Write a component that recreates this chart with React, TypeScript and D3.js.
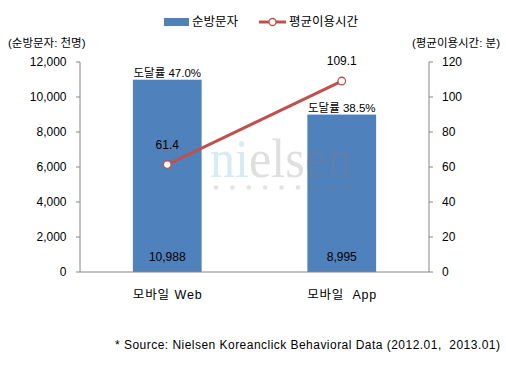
import * as d3 from "d3";

const categories = ["모바일 Web", "모바일  App"];
const visitors = [10988, 8995];
const avgTime = [61.4, 109.1];
const reachLabels = ["도달률 47.0%", "도달률 38.5%"];
const visitorLabels = ["10,988", "8,995"];
const timeLabels = ["61.4", "109.1"];
const leftTicks = [0, 2000, 4000, 6000, 8000, 10000, 12000];
const rightTicks = [0, 20, 40, 60, 80, 100, 120];

const W = 506;
const H = 367;
const plot = { left: 80, right: 429, top: 62, bottom: 272 };

const barColor = "#4F81BD";
const lineColor = "#C0504D";
const axisColor = "#868686";
const font = "'Liberation Sans', 'Noto Sans CJK KR', sans-serif";

export default function App() {
  const x = d3
    .scaleBand<string>()
    .domain(categories)
    .range([plot.left, plot.right])
    .paddingInner(0.606)
    .paddingOuter(0.303);
  const cx = (c: string) => (x(c) ?? 0) + x.bandwidth() / 2;

  const yLeft = d3.scaleLinear().domain([0, 12000]).range([plot.bottom, plot.top]);
  const yRight = d3.scaleLinear().domain([0, 120]).range([plot.bottom, plot.top]);

  const line = d3
    .line<number>()
    .x((_, i) => cx(categories[i]))
    .y((d) => yRight(d));

  const fmt = d3.format(",");
  const dots = d3.range(9);

  return (
    <svg
      width={W}
      height={H}
      style={{ position: "absolute", left: 0, top: 0, background: "#fff" }}
      fontFamily={font}
    >
      {/* legend */}
      <rect x={164} y={18} width={25} height={8} fill={barColor} />
      <text x={192} y={22} dy="0.35em" fontSize={12.5}>
        순방문자
      </text>
      <line x1={259} x2={286} y1={22} y2={22} stroke={lineColor} strokeWidth={3} />
      <circle cx={272.5} cy={22} r={3.5} fill="#fff" stroke={lineColor} strokeWidth={1.3} />
      <text x={289} y={22} dy="0.35em" fontSize={12.5}>
        평균이용시간
      </text>

      {/* axis titles */}
      <text x={8} y={43} dy="0.35em" fontSize={11.5}>
        (순방문자: 천명)
      </text>
      <text x={500} y={43} dy="0.35em" fontSize={11.5} textAnchor="end">
        (평균이용시간: 분)
      </text>

      {/* bars */}
      {categories.map((c, i) => (
        <rect
          key={c}
          x={x(c)}
          y={yLeft(visitors[i])}
          width={x.bandwidth()}
          height={plot.bottom - yLeft(visitors[i])}
          fill={barColor}
        />
      ))}

      {/* watermark */}
      <text
        x={210}
        y={177}
        fontFamily="'Liberation Serif', serif"
        fontSize={54}
        textLength={142}
        lengthAdjust="spacingAndGlyphs"
      >
        <tspan fill="#5fb0d0" fillOpacity={0.25}>ni</tspan>
        <tspan fill="#7f7f7f" fillOpacity={0.25}>elsen</tspan>
      </text>
      {dots.map((d) => (
        <circle key={d} cx={216 + d * 16.4} cy={187.5} r={2.3} fill="#7f7f7f" fillOpacity={0.22} />
      ))}

      {/* axes */}
      <line x1={plot.left} x2={plot.left} y1={plot.top} y2={plot.bottom} stroke={axisColor} />
      <line x1={plot.right} x2={plot.right} y1={plot.top} y2={plot.bottom} stroke={axisColor} />
      <line x1={plot.left} x2={plot.right} y1={plot.bottom} y2={plot.bottom} stroke={axisColor} />
      {leftTicks.map((t) => (
        <g key={"l" + t}>
          <line x1={plot.left - 4} x2={plot.left} y1={yLeft(t)} y2={yLeft(t)} stroke={axisColor} />
          <text x={66.5} y={yLeft(t)} dy="0.35em" fontSize={12} textAnchor="end">
            {fmt(t)}
          </text>
        </g>
      ))}
      {rightTicks.map((t) => (
        <g key={"r" + t}>
          <line x1={plot.right} x2={plot.right + 4} y1={yRight(t)} y2={yRight(t)} stroke={axisColor} />
          <text x={442} y={yRight(t)} dy="0.35em" fontSize={12}>
            {t}
          </text>
        </g>
      ))}

      {/* line series */}
      <path d={line(avgTime) ?? ""} fill="none" stroke={lineColor} strokeWidth={3} />
      {avgTime.map((v, i) => (
        <circle
          key={i}
          cx={cx(categories[i])}
          cy={yRight(v)}
          r={3.8}
          fill="#fff"
          stroke={lineColor}
          strokeWidth={1.3}
        />
      ))}

      {/* data labels */}
      {categories.map((c, i) => (
        <g key={"lab" + c} fontSize={12}>
          <text
            x={cx(c)}
            y={yLeft(visitors[i]) - 7}
            dy="0.35em"
            textAnchor="middle"
            fontSize={11.5}
          >
            {reachLabels[i]}
          </text>
          <text x={cx(c)} y={256.5} dy="0.35em" textAnchor="middle">
            {visitorLabels[i]}
          </text>
          <text x={cx(c)} y={yRight(avgTime[i]) - 20} dy="0.35em" textAnchor="middle">
            {timeLabels[i]}
          </text>
          <text
            x={cx(c)}
            y={295}
            dy="0.35em"
            textAnchor="middle"
            fontSize={12.5}
            textLength={69}
            style={{ whiteSpace: "pre" }}
          >
            {categories[i]}
          </text>
        </g>
      ))}

      {/* source */}
      <text
        x={500}
        y={345}
        dy="0.35em"
        fontSize={12}
        textAnchor="end"
        textLength={385}
        style={{ whiteSpace: "pre" }}
      >
        * Source: Nielsen Koreanclick Behavioral Data (2012.01,  2013.01)
      </text>
    </svg>
  );
}
